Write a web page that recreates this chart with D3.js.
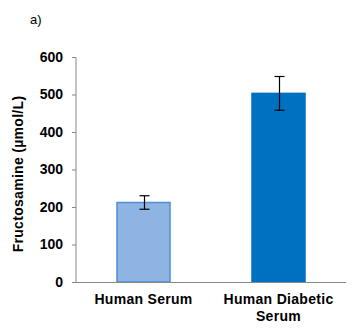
<!DOCTYPE html>
<html><head><meta charset="utf-8">
<script src="https://cdn.jsdelivr.net/npm/d3@7"></script>
<style>body{margin:0;background:#fff}svg{display:block}text{font-family:"Liberation Sans",Arial,sans-serif}</style>
</head><body><div id="c"></div>
<script>
const categories = [["Human Serum"], ["Human Diabetic", "Serum"]];
const values = [212, 503];
const errors = [18, 45];
const colors = ["#8EB4E3", "#0070C0"];
const strokes = ["#4F8DD6", "#0070C0"];
const yTicks = [0, 100, 200, 300, 400, 500, 600];

const W = 364, H = 334;
const svg = d3.select("#c").append("svg").attr("width", W).attr("height", H);
const x = d3.scaleBand().domain(d3.range(values.length)).range([76, 346]).paddingInner(0.6).paddingOuter(0.3);
const y = d3.scaleLinear().domain([0, 600]).range([282, 57]);

svg.append("text").attr("x", 30).attr("y", 24).attr("font-size", 13).text("a)");

const ya = svg.append("g").attr("transform", "translate(76,0)")
  .call(d3.axisLeft(y).tickValues(yTicks).tickSize(4).tickPadding(9));
ya.select(".domain").attr("stroke", "#868686").attr("d", "M-4,57.5H0V282.5H-4");
ya.selectAll(".tick line").attr("stroke", "#868686");
ya.selectAll(".tick text").attr("font-size", 14).attr("font-weight", "bold").attr("fill", "#000")
  .attr("font-family", '"Liberation Sans",Arial,sans-serif');

svg.append("g").selectAll("rect").data(values).join("rect")
  .attr("x", (d, i) => x(i) + 0.5).attr("width", x.bandwidth() - 1)
  .attr("y", d => y(d)).attr("height", d => y(0) - y(d))
  .attr("fill", (d, i) => colors[i]).attr("stroke", (d, i) => strokes[i]).attr("stroke-width", 1.5);

svg.append("line").attr("x1", 76).attr("x2", 346).attr("y1", 282.5).attr("y2", 282.5).attr("stroke", "#868686");

const eb = svg.append("g").selectAll("g").data(values).join("g")
  .attr("transform", (d, i) => `translate(${Math.round(x(i) + x.bandwidth() / 2) + 0.5},0)`);
eb.append("line").attr("y1", (d, i) => y(d + errors[i])).attr("y2", (d, i) => y(d - errors[i])).attr("stroke", "#000").attr("stroke-width", 1.2);
eb.append("line").attr("x1", -5).attr("x2", 5).attr("y1", (d, i) => y(d + errors[i])).attr("y2", (d, i) => y(d + errors[i])).attr("stroke", "#000").attr("stroke-width", 1.2);
eb.append("line").attr("x1", -5).attr("x2", 5).attr("y1", (d, i) => y(d - errors[i])).attr("y2", (d, i) => y(d - errors[i])).attr("stroke", "#000").attr("stroke-width", 1.2);

const xl = svg.append("g").selectAll("text").data(categories).join("text")
  .attr("x", (d, i) => x(i) + x.bandwidth() / 2).attr("y", 304)
  .attr("text-anchor", "middle").attr("font-size", 14).attr("font-weight", "bold")
  .attr("letter-spacing", 0.3);
xl.selectAll("tspan").data(d => d).join("tspan")
  .attr("x", function () { return this.parentNode.getAttribute("x"); })
  .attr("dy", (d, j) => j === 0 ? 0 : 17).text(d => d);

svg.append("text").attr("transform", "translate(23,174) rotate(-90)").attr("text-anchor", "middle")
  .attr("font-size", 14).attr("font-weight", "bold").attr("letter-spacing", 0.3).text("Fructosamine (µmol/L)");
</script></body></html>
